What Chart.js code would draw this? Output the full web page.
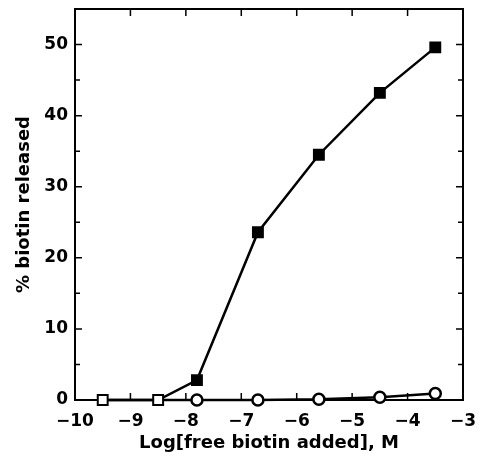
<!DOCTYPE html>
<html>
<head>
<meta charset="utf-8">
<script src="https://cdn.jsdelivr.net/npm/chart.js@4"></script>
<style>
  html, body { margin: 0; padding: 0; background: #fff; }
  #wrap { width: 481px; height: 461px; }
</style>
</head>
<body>
<div id="wrap"><canvas id="chart" width="481" height="461"></canvas></div>
<script>
// values
var logBiotin = [-9.5, -8.5, -7.8, -6.7, -5.6, -4.5, -3.5];
var releasedSquares = [0, 0, 2.8, 23.6, 34.5, 43.2, 49.6];
var releasedCircles = [0, 0, 0, 0, 0.1, 0.4, 0.9];
var yTickLabels = [0, 10, 20, 30, 40, 50];

function toPoints(xs, ys) {
  return xs.map(function (x, i) {
    return { x: x, y: ys[i] };
  });
}

// frame plus inward ticks on all four sides
var frameTicks = {
  id: "frameTicks",
  beforeDatasetsDraw: function (chart) {
    var ctx = chart.ctx;
    var a = chart.chartArea;
    var xs = chart.scales.x;
    var ys = chart.scales.y;
    ctx.save();
    ctx.strokeStyle = "#000";
    ctx.lineWidth = 2;
    ctx.strokeRect(a.left, a.top, a.right - a.left, a.bottom - a.top);
    ctx.lineWidth = 1.5;
    ctx.beginPath();
    for (var v = -9; v <= -4; v++) {
      var px = xs.getPixelForValue(v);
      ctx.moveTo(px, a.bottom);
      ctx.lineTo(px, a.bottom - 7);
      ctx.moveTo(px, a.top);
      ctx.lineTo(px, a.top + 7);
    }
    for (var w = 5; w <= 50; w += 5) {
      var py = ys.getPixelForValue(w);
      var len = w % 10 === 0 ? 7 : 5;
      ctx.moveTo(a.left, py);
      ctx.lineTo(a.left + len, py);
      ctx.moveTo(a.right, py);
      ctx.lineTo(a.right - len, py);
    }
    ctx.stroke();
    ctx.restore();
  }
};

var ctx = document.getElementById("chart");
var myChart = new Chart(ctx, {
  type: "scatter",
  data: {
    datasets: [
      {
        label: "squares",
        data: toPoints(logBiotin, releasedSquares),
        showLine: true,
        clip: false,
        borderColor: "#000",
        borderWidth: 2.5,
        pointStyle: "rect",
        pointRadius: 7,
        pointBackgroundColor: ["#fff", "#fff", "#000", "#000", "#000", "#000", "#000"],
        pointBorderColor: "#000",
        pointBorderWidth: 2,
      },
      {
        label: "circles",
        data: toPoints(logBiotin, releasedCircles),
        showLine: true,
        clip: false,
        borderColor: "#000",
        borderWidth: 2.5,
        pointStyle: "circle",
        pointRadius: [0, 0, 5.5, 5.5, 5.5, 5.5, 5.5],
        pointBackgroundColor: "#fff",
        pointBorderColor: "#000",
        pointBorderWidth: 2.5,
      },
    ],
  },
  options: {
    responsive: false,
    animation: false,
    layout: { padding: { top: 9, right: 18, left: 0, bottom: 0 } },
    plugins: {
      legend: { display: false },
      tooltip: { enabled: false },
    },
    scales: {
      x: {
        type: "linear",
        min: -10,
        max: -3,
        grid: { display: false, drawTicks: false },
        border: { display: false },
        afterFit: function (scale) {
          scale.height = 61;
          scale.paddingLeft = 0;
          scale.paddingRight = 0;
        },
        ticks: {
          stepSize: 1,
          padding: 13,
          color: "#000",
          font: { family: "DejaVu Sans", weight: "bold", size: 17, lineHeight: 1.0 },
          callback: function (v) {
            return String(v).replace("-", "\u2212");
          },
        },
        title: {
          display: true,
          text: "Log[free biotin added], M",
          color: "#000",
          padding: { top: 0, bottom: 7 },
          font: { family: "DejaVu Sans", weight: "bold", size: 18 },
        },
      },
      y: {
        min: 0,
        max: 55,
        grid: { display: false, drawTicks: false },
        border: { display: false },
        afterBuildTicks: function (scale) {
          scale.ticks = yTickLabels.map(function (v) {
            return { value: v };
          });
        },
        afterFit: function (scale) {
          scale.width = 75;
          scale.paddingTop = 0;
          scale.paddingBottom = 0;
        },
        ticks: {
          padding: 7,
          color: "#000",
          font: { family: "DejaVu Sans", weight: "bold", size: 17 },
        },
        title: {
          display: true,
          text: "% biotin released",
          color: "#000",
          padding: { top: 14, bottom: 0 },
          font: { family: "DejaVu Sans", weight: "bold", size: 18 },
        },
      },
    },
  },
  plugins: [frameTicks],
});
</script>
</body>
</html>
